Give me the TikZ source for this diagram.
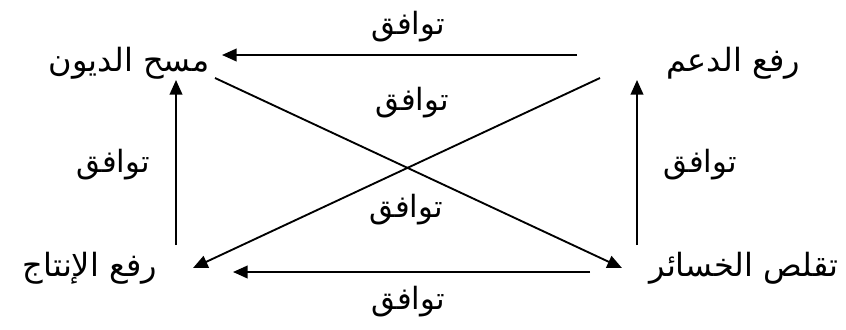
\documentclass[tikz,border=0pt]{standalone}
\usepackage{fontspec}
\newfontfamily\arabicfont[Script=Arabic]{DejaVu Sans}
\TeXXeTstate=1
\usetikzlibrary{arrows.meta,calc}
\begin{document}
\begin{tikzpicture}[x=0.75pt,y=-0.75pt,
  lbl/.style={inner sep=0pt,font=\arabicfont\fontsize{23}{25}\selectfont},
  box/.style={inner sep=0pt,font=\arabicfont\fontsize{24}{26}\selectfont},
  conn/.style={line width=1.4pt,-{Triangle[length=11pt,width=9.5pt]}}]
\useasboundingbox (0,0) rectangle (846,329);
\node[box] (tl) at (129,63) {\beginR مسح الديون\endR};
\node[box] (tr) at (733,63) {\beginR رفع الدعم\endR};
\node[box] (bl) at (90,268) {\beginR رفع الإنتاج\endR};
\node[box] (br) at (744,268) {\beginR تقلص الخسائر\endR};
\node[lbl] (l1) at (408,27) {\beginR توافق\endR};
\node[lbl] (l2) at (412,103) {\beginR توافق\endR};
\node[lbl] (l3) at (406,210) {\beginR توافق\endR};
\node[lbl] (l4) at (408,302) {\beginR توافق\endR};
\node[lbl] (l5) at (113,165) {\beginR توافق\endR};
\node[lbl] (l6) at (700,165) {\beginR توافق\endR};
\draw[conn] ($(tr)+(-156,-8)$) -- ($(tl)+(93,-8)$);
\draw[conn] ($(br)+(-154,4)$) -- ($(bl)+(143,4)$);
\draw[conn] ($(bl)+(86,-23)$) -- ($(tl)+(47,17)$);
\draw[conn] ($(br)+(-107,-23)$) -- ($(tr)+(-96,17)$);
\draw[conn] ($(tl)+(86,15)$) -- ($(br)+(-122,0)$);
\draw[conn] ($(tr)+(-133,15)$) -- ($(bl)+(103,0)$);
\end{tikzpicture}
\end{document}
